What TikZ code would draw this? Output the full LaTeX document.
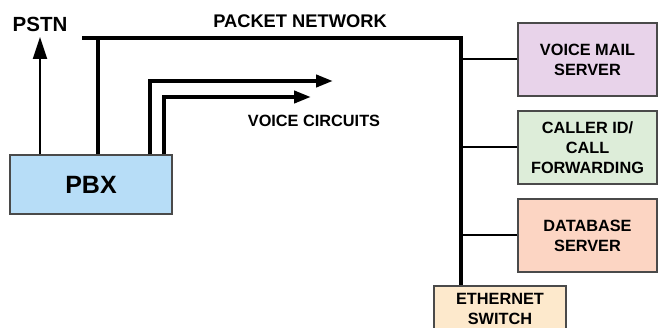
\documentclass[tikz,border=0pt]{standalone}
\usepackage{fontspec}
\setmainfont{Liberation Sans}
\usetikzlibrary{arrows.meta}
\definecolor{pbxblue}{HTML}{B7DDF7}
\definecolor{vmpurple}{HTML}{E8D3EA}
\definecolor{cidgreen}{HTML}{DDEDD9}
\definecolor{dbpeach}{HTML}{FCD5C3}
\definecolor{ethtan}{HTML}{FDE9CC}
\definecolor{edgegray}{HTML}{4A4A4A}
\tikzset{
  box/.style={draw=edgegray, line width=1.3pt, inner sep=0pt, align=center,
    font=\fontsize{16.3}{20}\selectfont\bfseries},
  label/.style={inner sep=0pt, font=\fontsize{16.3}{20}\selectfont\bfseries},
  bus/.style={line width=4pt, line join=miter},
  branch/.style={line width=2pt},
  thickarrow/.style={bus, -{Triangle[length=17pt,width=12pt]}},
  thinarrow/.style={line width=2pt, -{Triangle[length=22pt,width=14pt]}}
}
\begin{document}
\begin{tikzpicture}[x=1pt,y=-1pt]
  \useasboundingbox (0,0) rectangle (658,328);

  % equipment boxes
  \node[box, fill=pbxblue, minimum width=162pt, minimum height=59pt,
        font=\fontsize{25}{28}\selectfont\bfseries] (pbx) at (91,184.5) {PBX};
  \node[box, fill=vmpurple, minimum width=139pt, minimum height=73pt] (vm)
        at (587.5,59.5) {VOICE MAIL\\SERVER};
  \node[box, fill=cidgreen, minimum width=139pt, minimum height=73pt] (cid)
        at (587.5,147.5) {CALLER ID/\\CALL\\FORWARDING};
  \node[box, fill=dbpeach, minimum width=139pt, minimum height=73pt] (db)
        at (587.5,235.5) {DATABASE\\SERVER};
  \node[box, fill=ethtan, minimum width=132pt, minimum height=46pt] (eth)
        at (500,309) {ETHERNET\\SWITCH};

  % text labels
  \node[label, font=\fontsize{20.5}{22}\selectfont\bfseries] (pstn) at (40,24.5) {PSTN};
  \node[label, font=\fontsize{18.3}{22}\selectfont\bfseries] (pktnet) at (300,21) {PACKET NETWORK};
  \node[label] (vclabel) at (314,121) {VOICE CIRCUITS};

  % packet network backbone
  \coordinate (netL) at (82,38);
  \coordinate (netR) at (461,38);
  \coordinate (pbxNet) at (98,38);
  \draw[bus] (netL) -- (netR) -- (eth.north -| netR);
  \draw[bus] (pbx.north -| pbxNet) -- (pbxNet);

  % servers on the switch
  \draw[branch] (vm.west) -- (vm.west -| netR);
  \draw[branch] (cid.west) -- (cid.west -| netR);
  \draw[branch] (db.west) -- (db.west -| netR);

  % PSTN uplink
  \coordinate (pstnTip) at (40,37);
  \draw[thinarrow] (pbx.north -| pstnTip) -- (pstnTip);

  % voice circuits
  \coordinate (vcOuter) at (333,81);
  \coordinate (vcInner) at (311,97);
  \draw[thickarrow] ([xshift=59pt]pbx.north) |- (vcOuter);
  \draw[thickarrow] ([xshift=73pt]pbx.north) |- (vcInner);
\end{tikzpicture}
\end{document}
